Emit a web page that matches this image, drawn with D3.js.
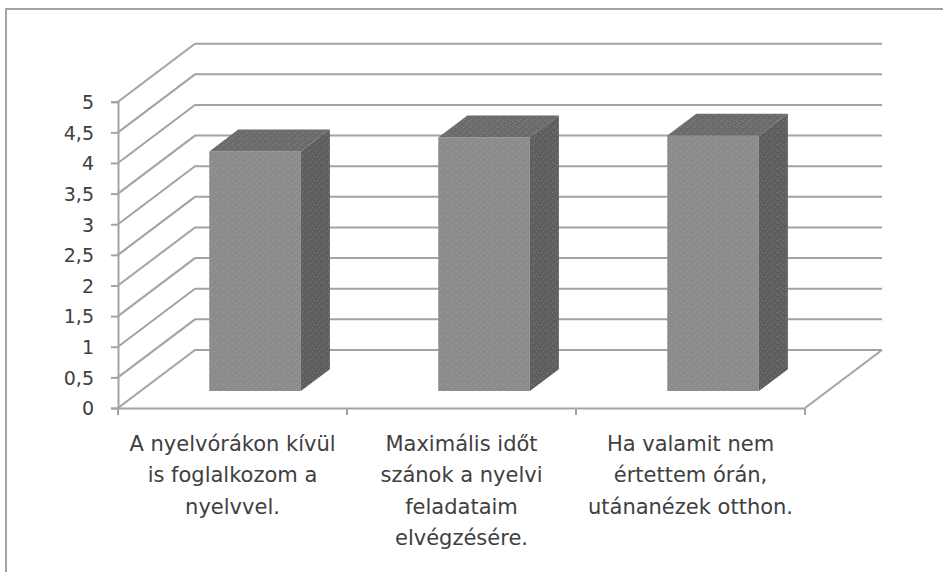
<!DOCTYPE html>
<html>
<head>
<meta charset="utf-8">
<script src="https://cdn.jsdelivr.net/npm/d3@7"></script>
<style>
  html, body { margin: 0; padding: 0; background: #ffffff; }
  svg { display: block; }
</style>
</head>
<body>
<svg id="chart" width="943" height="572"></svg>
<script>
// ---- data ----
const categories = [
  "A nyelvórákon kívül is foglalkozom a nyelvvel.",
  "Maximális időt szánok a nyelvi feladataim elvégzésére.",
  "Ha valamit nem értettem órán, utánanézek otthon."
];
const categoryLines = [
  ["A nyelvórákon kívül", "is foglalkozom a", "nyelvvel."],
  ["Maximális időt", "szánok a nyelvi", "feladataim", "elvégzésére."],
  ["Ha valamit nem", "értettem órán,", "utánanézek otthon."]
];
const values = [3.91, 4.14, 4.17];
const yTicks = [0, 0.5, 1, 1.5, 2, 2.5, 3, 3.5, 4, 4.5, 5];

// ---- layout ----
const svg = d3.select("#chart");
const pL = 118, pR = 805, pB = 408, pT = 101.7;
const DX = 77, DY = -58;          // depth vector of the 3D box
const f0 = 0.293, f1 = 0.67;      // bar depth placement (fraction of depth)
const gridColor = "#a3a3a3";
const textColor = "#404040";
const font = "'DejaVu Sans', Verdana, sans-serif";

const x = d3.scaleBand().domain(categories).range([pL, pR]).paddingInner(0).paddingOuter(0);
const y = d3.scaleLinear().domain([0, 5]).range([pB, pT]);

// frame
svg.append("rect").attr("x", 6).attr("y", 9).attr("width", 1000).attr("height", 1000)
  .attr("fill", "#ffffff").attr("stroke", "#a3a3a3").attr("stroke-width", 2);

// dotted texture pattern
const defs = svg.append("defs");
const pat = defs.append("pattern").attr("id", "dots").attr("patternUnits", "userSpaceOnUse")
  .attr("width", 7).attr("height", 6);
[[1,1],[4,3],[2,5],[6,0]].forEach(([px, py]) => {
  pat.append("rect").attr("x", px).attr("y", py).attr("width", 1).attr("height", 1)
    .attr("fill", "#ffffff").attr("opacity", 0.18);
});

// walls: side-wall diagonals + back-wall gridlines
const grid = svg.append("g");
yTicks.forEach(t => {
  const yy = y(t);
  grid.append("path")
    .attr("d", `M${pL},${yy}L${pL + DX},${yy + DY}L${pR + DX},${yy + DY}`)
    .attr("fill", "none").attr("stroke", gridColor).attr("stroke-width", 2);
});
// floor right edge
grid.append("path")
  .attr("d", `M${pR},${y(0)}L${pR + DX},${y(0) + DY}`)
  .attr("fill", "none").attr("stroke", gridColor).attr("stroke-width", 2);

// y axis
const yAxis = d3.axisLeft(y).tickValues(yTicks).tickSize(7).tickPadding(17)
  .tickFormat(d => String(d).replace(".", ","));
const gy = svg.append("g").attr("transform", `translate(${pL},0)`).call(yAxis);
gy.select(".domain").attr("stroke", gridColor).attr("stroke-width", 2);
gy.selectAll(".tick line").attr("stroke", gridColor).attr("stroke-width", 2);
gy.selectAll(".tick text").attr("fill", textColor).attr("font-size", 19)
  .attr("font-family", font).attr("dy", "0.36em");

// x axis (front floor edge)
const xAxis = d3.axisBottom(x).tickSize(0).tickFormat("");
const gx = svg.append("g").attr("transform", `translate(0,${pB})`).call(xAxis);
gx.select(".domain").attr("stroke", gridColor).attr("stroke-width", 2);
const bounds = categories.map(c => x(c)).concat([x.range()[1]]);
gx.selectAll(".sep").data(bounds).enter().append("line")
  .attr("x1", d => d).attr("x2", d => d).attr("y1", 0).attr("y2", 7)
  .attr("stroke", gridColor).attr("stroke-width", 2);

// category labels
categories.forEach((c, i) => {
  const cx = x(c) + x.bandwidth() / 2;
  const t = svg.append("text").attr("text-anchor", "middle").attr("fill", textColor)
    .attr("font-size", 21).attr("font-family", font);
  categoryLines[i].forEach((ln, j) => {
    t.append("tspan").attr("x", cx).attr("y", 451 + j * 31.3).text(ln);
  });
});

// bars
const barW = x.bandwidth() * 0.4;
const ddx = (f1 - f0) * DX, ddy = (f1 - f0) * DY;
const bars = svg.append("g");
values.forEach((v, i) => {
  const c = categories[i];
  const x0 = x(c) + (x.bandwidth() - barW) / 2 + f0 * DX;
  const yb = y(0) + f0 * DY;
  const yt = y(v) + f0 * DY;
  const x1 = x0 + barW;
  const g = bars.append("g");
  const faces = [
    { d: `M${x0},${yt}L${x1},${yt}L${x1},${yb}L${x0},${yb}Z`, fill: "#8b8b8b" },
    { d: `M${x0},${yt}L${x1},${yt}L${x1 + ddx},${yt + ddy}L${x0 + ddx},${yt + ddy}Z`, fill: "#6b6b6b" },
    { d: `M${x1},${yt}L${x1 + ddx},${yt + ddy}L${x1 + ddx},${yb + ddy}L${x1},${yb}Z`, fill: "#5e5e5e" }
  ];
  faces.forEach(f => {
    g.append("path").attr("d", f.d).attr("fill", f.fill);
    g.append("path").attr("d", f.d).attr("fill", "url(#dots)");
  });
});
</script>
</body>
</html>
